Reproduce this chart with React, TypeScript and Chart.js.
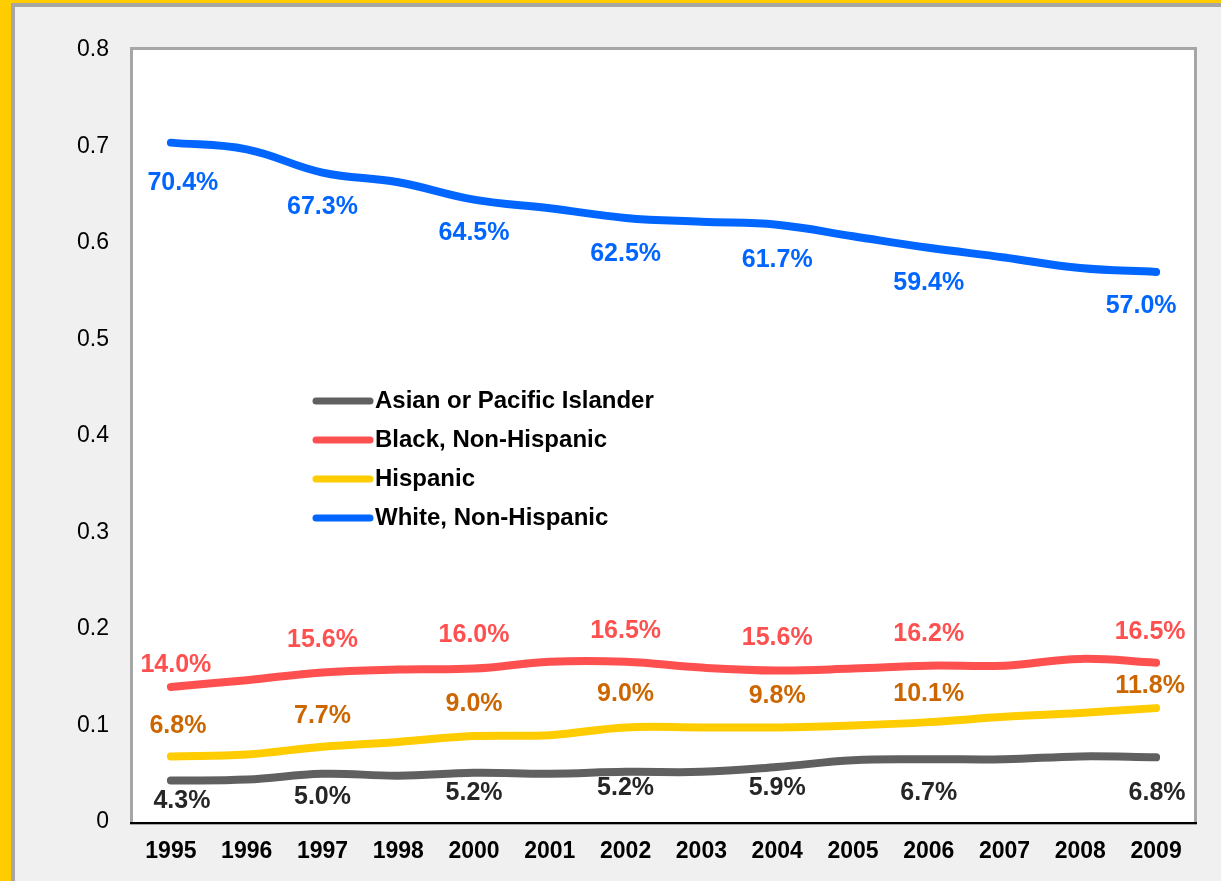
import React, { useEffect, useRef } from "react";
import { Chart, registerables } from "chart.js";

Chart.register(...registerables);

const YEARS = ["1995", "1996", "1997", "1998", "2000", "2001", "2002", "2003", "2004", "2005", "2006", "2007", "2008", "2009"];
const ASIAN = [0.043, 0.044, 0.05, 0.048, 0.051, 0.05, 0.052, 0.052, 0.057, 0.064, 0.065, 0.065, 0.068, 0.067];
const BLACK = [0.14, 0.147, 0.155, 0.158, 0.159, 0.166, 0.166, 0.16, 0.157, 0.159, 0.162, 0.162, 0.169, 0.165];
const HISPANIC = [0.068, 0.07, 0.078, 0.083, 0.089, 0.09, 0.098, 0.098, 0.098, 0.1, 0.1035, 0.109, 0.113, 0.118];
const WHITE = [0.704, 0.697, 0.673, 0.663, 0.645, 0.636, 0.626, 0.622, 0.619, 0.607, 0.595, 0.585, 0.574, 0.57];

const LABEL_INDEX = [0, 2, 4, 6, 8, 10, 13];
const ASIAN_LABELS = ["4.3%", "5.0%", "5.2%", "5.2%", "5.9%", "6.7%", "6.8%"];
const BLACK_LABELS = ["14.0%", "15.6%", "16.0%", "16.5%", "15.6%", "16.2%", "16.5%"];
const HISPANIC_LABELS = ["6.8%", "7.7%", "9.0%", "9.0%", "9.8%", "10.1%", "11.8%"];
const WHITE_LABELS = ["70.4%", "67.3%", "64.5%", "62.5%", "61.7%", "59.4%", "57.0%"];

const SERIES_NAMES = ["Asian or Pacific Islander", "Black, Non-Hispanic", "Hispanic", "White, Non-Hispanic"];

// styling (positions of labels relative to points)
const STYLE = [
  { line: "#606060", text: "#262626", labels: ASIAN_LABELS, dy: [21, 23, 20, 16, 21, 34, 36], dx: [11, 0, 0, 0, 0, 0, 1] },
  { line: "#ff5050", text: "#ff5050", labels: BLACK_LABELS, dy: [-22, -32, -33, -31, -32, -32, -31], dx: [5, 0, 0, 0, 0, 0, -6] },
  { line: "#ffcc00", text: "#cc6600", labels: HISPANIC_LABELS, dy: [-30, -31, -32, -33, -31, -28, -22], dx: [7, 0, 0, 0, 0, 0, -6] },
  { line: "#0066ff", text: "#0066ff", labels: WHITE_LABELS, dy: [40, 35, 34, 36, 35, 35, 34], dx: [12, 0, 0, 0, 0, 0, -15] },
];

const FONT = "'Liberation Sans', Arial, sans-serif";

const decorPlugin = {
  id: "decor",
  beforeDraw(chart: any) {
    const { ctx, chartArea: a } = chart;
    ctx.save();
    ctx.fillStyle = "#ffffff";
    ctx.fillRect(a.left, a.top, a.right - a.left, a.bottom - a.top);
    ctx.restore();
  },
  afterDatasetsDraw(chart: any) {
    const { ctx, chartArea: a } = chart;
    ctx.save();
    // frame
    ctx.strokeStyle = "#a6a6a6";
    ctx.lineWidth = 3;
    ctx.strokeRect(a.left - 1.5, a.top - 1.5, a.right - a.left + 3, a.bottom - a.top + 3);
    ctx.strokeStyle = "#000000";
    ctx.lineWidth = 2;
    ctx.beginPath();
    ctx.moveTo(a.left - 3, a.bottom + 1);
    ctx.lineTo(a.right + 3, a.bottom + 1);
    ctx.stroke();

    // data labels
    ctx.font = `bold 25px ${FONT}`;
    ctx.textAlign = "center";
    ctx.textBaseline = "middle";
    chart.data.datasets.forEach((ds: any, di: number) => {
      const meta = chart.getDatasetMeta(di);
      const st = STYLE[di];
      ctx.fillStyle = st.text;
      LABEL_INDEX.forEach((idx, k) => {
        const pt = meta.data[idx];
        if (!pt) return;
        ctx.fillText(st.labels[k], pt.x + st.dx[k], pt.y + st.dy[k]);
      });
    });

    // legend
    const lx = 316;
    const ly = 401;
    const gap = 39;
    ctx.font = `bold 24px ${FONT}`;
    ctx.textAlign = "left";
    ctx.textBaseline = "middle";
    chart.data.datasets.forEach((ds: any, di: number) => {
      const y = ly + di * gap;
      ctx.strokeStyle = ds.borderColor;
      ctx.lineWidth = 7;
      ctx.lineCap = "round";
      ctx.beginPath();
      ctx.moveTo(lx, y);
      ctx.lineTo(lx + 54, y);
      ctx.stroke();
      ctx.fillStyle = "#000000";
      ctx.fillText(ds.label, lx + 59, y);
    });
    ctx.restore();
  },
};

export default function App() {
  const ref = useRef<HTMLCanvasElement | null>(null);

  useEffect(() => {
    document.body.style.margin = "0";
    const canvas = ref.current;
    if (!canvas) return;
    const series = [ASIAN, BLACK, HISPANIC, WHITE];
    const chart = new Chart(canvas, {
      type: "line",
      data: {
        labels: YEARS,
        datasets: series.map((d, i) => ({
          label: SERIES_NAMES[i],
          data: d,
          borderColor: STYLE[i].line,
          backgroundColor: STYLE[i].line,
          borderWidth: 8,
          borderCapStyle: "round",
          borderJoinStyle: "round",
          pointRadius: 0,
          pointHoverRadius: 0,
          tension: 0.4,
          fill: false,
        })),
      },
      options: {
        animation: false,
        responsive: false,
        maintainAspectRatio: false,
        events: [],
        layout: { padding: { top: 50, right: 27, left: 0, bottom: 0 } },
        plugins: { legend: { display: false }, tooltip: { enabled: false } },
        scales: {
          x: {
            offset: true,
            grid: { display: false, drawTicks: false },
            border: { display: false },
            ticks: {
              color: "#000000",
              font: { family: FONT, size: 23, weight: "bold" },
              padding: 16,
              maxRotation: 0,
              autoSkip: false,
            },
            afterFit(scale: any) {
              scale.height = 59;
            },
          },
          y: {
            min: 0,
            max: 0.8,
            grid: { display: false, drawTicks: false },
            border: { display: false },
            ticks: {
              stepSize: 0.1,
              color: "#000000",
              font: { family: FONT, size: 23 },
              padding: 24,
              callback: (v: any) => (Math.abs(v) < 1e-9 ? "0" : Number(v).toFixed(1)),
            },
            afterFit(scale: any) {
              scale.width = 133;
            },
          },
        },
      },
      plugins: [decorPlugin],
    } as any);
    return () => chart.destroy();
  }, []);

  return (
    <div style={{ position: "relative", width: 1221, height: 881, background: "#ffcc00", overflow: "hidden" }}>
      <div
        style={{
          position: "absolute",
          left: 11,
          top: 3,
          right: 0,
          bottom: 0,
          background: "#f0f0f0",
          borderLeft: "4px solid #a6a6a6",
          borderTop: "4px solid #a6a6a6",
        }}
      />
      <canvas ref={ref} width={1221} height={881} style={{ position: "absolute", left: 0, top: 0, display: "block" }} />
    </div>
  );
}
